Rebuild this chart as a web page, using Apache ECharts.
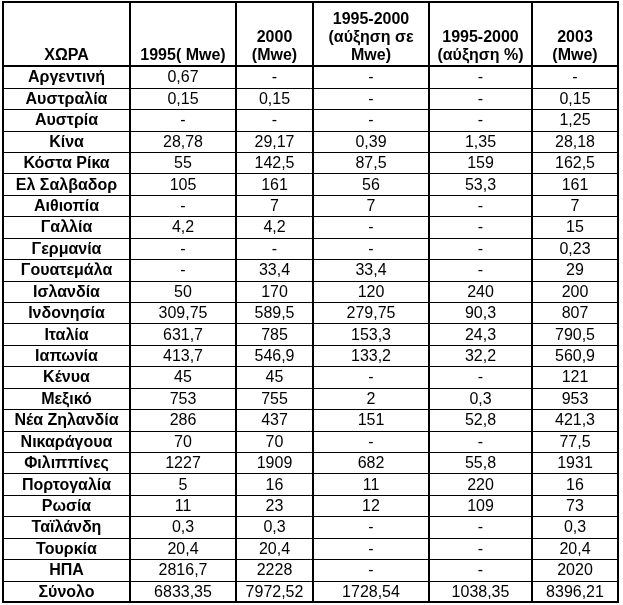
<!DOCTYPE html>
<html><head><meta charset="utf-8">
<script src="https://cdn.jsdelivr.net/npm/echarts@6/dist/echarts.min.js"></script>
<style>html,body{margin:0;padding:0;background:#fff}#c{width:623px;height:605px}</style>
</head><body><div id="c"></div>
<script>
// ---- data ----
const headers = ['ΧΩΡΑ', '1995( Mwe)', '2000\n(Mwe)', '1995-2000\n(αύξηση σε\nMwe)', '1995-2000\n(αύξηση %)', '2003\n(Mwe)'];
const countries = ['Αργεντινή','Αυστραλία','Αυστρία','Κίνα','Κόστα Ρίκα','Ελ Σαλβαδορ','Αιθιοπία','Γαλλία','Γερμανία','Γουατεμάλα','Ισλανδία','Ινδονησία','Ιταλία','Ιαπωνία','Κένυα','Μεξικό','Νέα Ζηλανδία','Νικαράγουα','Φιλιππίνες','Πορτογαλία','Ρωσία','Ταϊλάνδη','Τουρκία','ΗΠΑ','Σύνολο'];
const mw1995 = [0.67,0.15,null,28.78,55,105,null,4.2,null,null,50,309.75,631.7,413.7,45,753,286,70,1227,5,11,0.3,20.4,2816.7,6833.35];
const mw2000 = [null,0.15,null,29.17,142.5,161,7,4.2,null,33.4,170,589.5,785,546.9,45,755,437,70,1909,16,23,0.3,20.4,2228,7972.52];
const incMw = [null,null,null,0.39,87.5,56,7,null,null,33.4,120,279.75,153.3,133.2,null,2,151,null,682,11,12,null,null,null,1728.54];
const incPct = [null,null,null,1.35,159,53.3,null,null,null,null,240,90.3,24.3,32.2,null,0.3,52.8,null,55.8,220,109,null,null,null,1038.35];
const mw2003 = [null,0.15,1.25,28.18,162.5,161,7,15,0.23,29,200,807,790.5,560.9,121,953,421.3,77.5,1931,16,73,0.3,20.4,2020,8396.21];

// ---- layout (table units) ----
const colEdges = [0,127,233,310,426,529,615];
const HEADER_UNITS = 3;
const TOTAL_UNITS = HEADER_UNITS + countries.length;

function fmt(v){ return v == null ? '-' : String(v).replace('.', ','); }
const valueCols = [null, mw1995, mw2000, incMw, incPct, mw2003];

const cells = [];
headers.forEach((h, c) => cells.push([c, -1, h]));
countries.forEach((name, r) => {
  for (let c = 0; c < 6; c++) {
    cells.push([c, r, c === 0 ? name : fmt(valueCols[c][r])]);
  }
});

const lines = [];
for (let k = 0; k <= TOTAL_UNITS; k++) {
  const thick = (k === 0 || k === HEADER_UNITS || k === TOTAL_UNITS);
  if (k > 0 && k < HEADER_UNITS) continue;
  lines.push([0, k, thick ? 2 : 1]);
}
colEdges.forEach(e => lines.push([1, e, 2]));

const FONT = '"Liberation Sans", Arial, sans-serif';

const chart = echarts.init(document.getElementById('c'));
chart.setOption({
  animation: false,
  grid: { left: 3, top: 2, right: 5, bottom: 3 },
  xAxis: { type: 'value', min: 0, max: colEdges[colEdges.length - 1], show: false },
  yAxis: { type: 'value', min: 0, max: TOTAL_UNITS, inverse: true, show: false },
  series: [
    {
      type: 'custom', clip: false, silent: true,
      data: cells.map((d, i) => [d[0], d[1], i]),
      renderItem(params, api) {
        const d = cells[params.dataIndex];
        const c = d[0], r = d[1], txt = d[2];
        const x0 = api.coord([colEdges[c], 0])[0];
        const x1 = api.coord([colEdges[c + 1], 0])[0];
        const header = r < 0;
        const y0 = api.coord([0, header ? 0 : HEADER_UNITS + r])[1];
        const y1 = api.coord([0, header ? HEADER_UNITS : HEADER_UNITS + r + 1])[1];
        const bold = header || c === 0;
        return {
          type: 'text',
          style: {
            x: (x0 + x1) / 2,
            y: header ? y1 - 2 : (y0 + y1) / 2 + 1,
            text: txt,
            align: 'center',
            verticalAlign: header ? 'bottom' : 'middle',
            fontFamily: FONT,
            fontSize: 16,
            fontWeight: bold ? 'bold' : 'normal',
            lineHeight: 18,
            fill: '#000'
          }
        };
      }
    },
    {
      type: 'custom', clip: false, silent: true,
      data: lines,
      renderItem(params, api) {
        const d = lines[params.dataIndex];
        const w = d[2];
        const off = w % 2 ? 0.5 : 0;
        const left = api.coord([0, 0])[0], right = api.coord([colEdges[colEdges.length - 1], 0])[0];
        const top = api.coord([0, 0])[1], bottom = api.coord([0, TOTAL_UNITS])[1];
        if (d[0] === 0) {
          const y = Math.round(api.coord([0, d[1]])[1]) + off;
          return { type: 'line', shape: { x1: left - 1, y1: y, x2: right + 1, y2: y }, style: { stroke: '#000', lineWidth: w } };
        } else {
          const x = Math.round(api.coord([d[1], 0])[0]) + off;
          return { type: 'line', shape: { x1: x, y1: top - 1, x2: x, y2: bottom + 1 }, style: { stroke: '#000', lineWidth: w } };
        }
      }
    }
  ]
});
</script>
</body></html>
